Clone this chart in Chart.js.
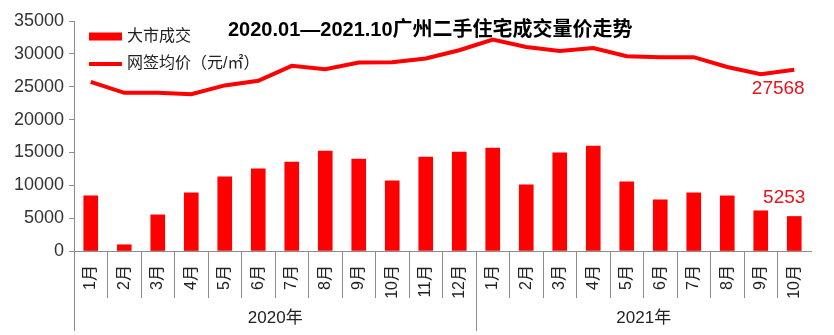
<!DOCTYPE html>
<html>
<head>
<meta charset="utf-8">
<script src="https://cdn.jsdelivr.net/npm/chart.js@4"></script>
<style>
html,body{margin:0;padding:0;background:#fff;}
#wrap{position:relative;width:834px;height:335px;}
</style>
</head>
<body>
<div id="wrap"><canvas id="c" width="834" height="335"></canvas></div>
<script>
const months = ["1月","2月","3月","4月","5月","6月","7月","8月","9月","10月","11月","12月",
                "1月","2月","3月","4月","5月","6月","7月","8月","9月","10月"];
const years = ["2020年","2021年"];
const yearSpans = [12,10];
const volume = [8400,950,5500,8850,11280,12500,13550,15220,14000,10670,14310,15070,
                15680,10060,14920,15980,10520,7790,8850,8390,6120,5253];
const price = [25740,24070,24070,23870,25200,25900,28170,27670,28680,28730,29300,30550,
               32170,31050,30450,30900,29640,29500,29500,28000,26900,27568];
const yTicks = [0,5000,10000,15000,20000,25000,30000,35000];
const titleText = "2020.01—2021.10广州二手住宅成交量价走势";
const legendVolume = "大市成交";
const legendPrice = "网签均价（元/㎡）";

const FONT = "'Liberation Sans', Arial, 'Noto Sans CJK SC', sans-serif";
const RED = "#ff0000";
const AXIS = "#8c8c8c";

const overlay = {
  id: 'overlay',
  afterDraw(chart) {
    const ctx = chart.ctx;
    const x = chart.scales.x;
    const area = chart.chartArea;
    ctx.save();
    // title
    ctx.fillStyle = "#000";
    ctx.font = "bold 20px " + FONT;
    ctx.textAlign = "left";
    ctx.textBaseline = "middle";
    ctx.fillText(titleText, 228, 30);
    // legend
    ctx.fillStyle = RED;
    ctx.fillRect(89, 32.5, 33, 8);
    ctx.strokeStyle = RED;
    ctx.lineWidth = 4;
    ctx.beginPath(); ctx.moveTo(89, 64); ctx.lineTo(122, 64); ctx.stroke();
    ctx.fillStyle = "#222";
    ctx.font = "16px " + FONT;
    ctx.fillText(legendVolume, 127, 37);
    ctx.fillText(legendPrice, 127, 64);
    // year separators and labels
    const half = (x.getPixelForValue(1) - x.getPixelForValue(0)) / 2;
    ctx.strokeStyle = AXIS;
    ctx.lineWidth = 1;
    let start = 0;
    ctx.font = "17px " + FONT;
    ctx.fillStyle = "#222";
    ctx.textAlign = "center";
    years.forEach((y, i) => {
      const x0 = Math.round(x.getPixelForValue(start) - half) + 0.5;
      ctx.beginPath(); ctx.moveTo(x0, area.bottom); ctx.lineTo(x0, 331); ctx.stroke();
      const x1 = x.getPixelForValue(start + yearSpans[i] - 1) + half;
      ctx.fillText(y, (x0 + x1) / 2, 318);
      start += yearSpans[i];
    });
    // data labels for last points
    const n = volume.length - 1;
    const barEl = chart.getDatasetMeta(0).data[n];
    const lineEl = chart.getDatasetMeta(1).data[n];
    ctx.fillStyle = "#e8141c";
    ctx.font = "19px " + FONT;
    ctx.fillText(String(price[n]), lineEl.x - 16, lineEl.y + 19);
    ctx.fillText(String(volume[n]), barEl.x - 10, barEl.y - 19);
    ctx.restore();
  }
};

new Chart(document.getElementById('c'), {
  data: {
    labels: months,
    datasets: [
      { type: 'bar', label: legendVolume, data: volume, backgroundColor: RED,
        barThickness: 14, order: 2 },
      { type: 'line', label: legendPrice, data: price, borderColor: RED, borderWidth: 4,
        pointRadius: 0, tension: 0, fill: false, order: 1 }
    ]
  },
  options: {
    responsive: false,
    animation: false,
    layout: { padding: { top: 21, right: 23, left: 0, bottom: 0 } },
    plugins: { legend: { display: false }, tooltip: { enabled: false }, title: { display: false } },
    scales: {
      x: {
        offset: true,
        grid: { offset: true, drawOnChartArea: false, tickLength: 47,
                color: (c) => (c.tick ? AXIS : 'rgba(0,0,0,0)'), lineWidth: 1 },
        border: { color: AXIS },
        ticks: { minRotation: 90, maxRotation: 90, autoSkip: false, padding: -33,
                 color: "#222", font: { family: FONT, size: 16 } },
        afterFit: (s) => { s.height = 84; }
      },
      y: {
        min: 0, max: 35000,
        afterBuildTicks: (s) => { s.ticks = yTicks.map(v => ({ value: v })); },
        grid: { drawOnChartArea: false, tickLength: 5, color: AXIS },
        border: { color: AXIS },
        ticks: { padding: 5, color: "#333", font: { family: FONT, size: 18 },
                 callback: (v) => String(v) },
        afterFit: (s) => { s.width = 74; }
      }
    }
  },
  plugins: [overlay]
});
</script>
</body>
</html>
